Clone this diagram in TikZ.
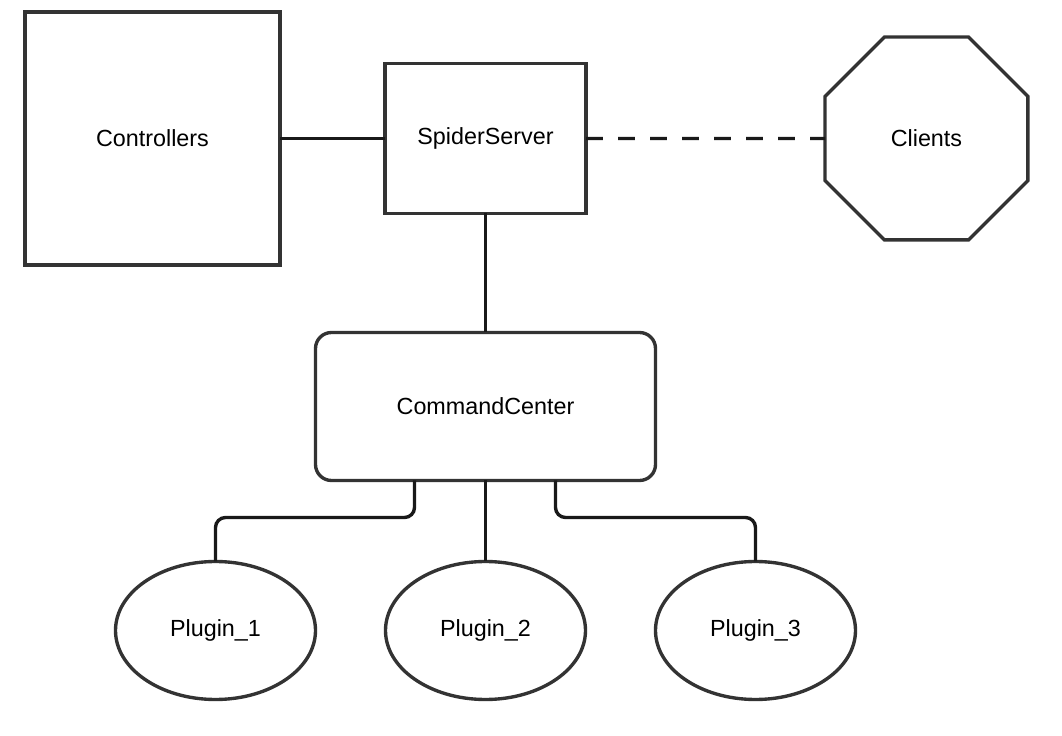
\documentclass[tikz,border=0pt]{standalone}
\usepackage{fontspec}
\setmainfont{Liberation Sans}
\usepackage{tikz}
\usetikzlibrary{positioning,shapes.geometric}

\begin{document}
\begin{tikzpicture}[
    every node/.style={font=\fontsize{16.6}{20}\selectfont, outer sep=0pt},
    box/.style={draw=black!80, line width=2.4pt, minimum width=#1, align=center, inner sep=0pt},
    box/.default=5cm,
    octo/.style={draw=black!80, line width=2.4pt, regular polygon, regular polygon sides=8, minimum size=5.49cm, inner sep=0pt},
    plug/.style={draw=black!80, line width=2.4pt, ellipse, minimum width=5cm, minimum height=3.45cm, inner sep=0pt},
    link/.style={line width=2.4pt, black!90, rounded corners=0.25cm},
    node distance=2cm
]
\useasboundingbox (0,0) rectangle (26.55,-18.4);

\node[box=6.375cm, minimum height=6.325cm] (ctrl) at (3.8125,-3.4625) {Controllers};
\node[box=5.025cm, minimum height=3.75cm, right=2.625cm of ctrl] (spider) {SpiderServer};
\node[octo, right=5.975cm of spider] (clients) {Clients};
\node[box=8.5cm, minimum height=3.7cm, rounded corners=0.4cm, below=2.975cm of spider] (cc) {CommandCenter};
\node[plug, below=2.025cm of cc] (plug2) {Plugin\_2};
\node[plug, left=1.75cm of plug2] (plug1) {Plugin\_1};
\node[plug, right=1.75cm of plug2] (plug3) {Plugin\_3};

\draw[link] (ctrl) -- (spider);
\draw[link, dash pattern=on 0.42cm off 0.38cm] (spider) -- (clients);
\draw[link] (spider) -- (cc);
\draw[link] (cc) -- (plug2);
\draw[link] ([xshift=-1.775cm]cc.south) -- ++(0,-0.925) -| (plug1.north);
\draw[link] ([xshift=1.75cm]cc.south) -- ++(0,-0.925) -| (plug3.north);

\end{tikzpicture}
\end{document}
